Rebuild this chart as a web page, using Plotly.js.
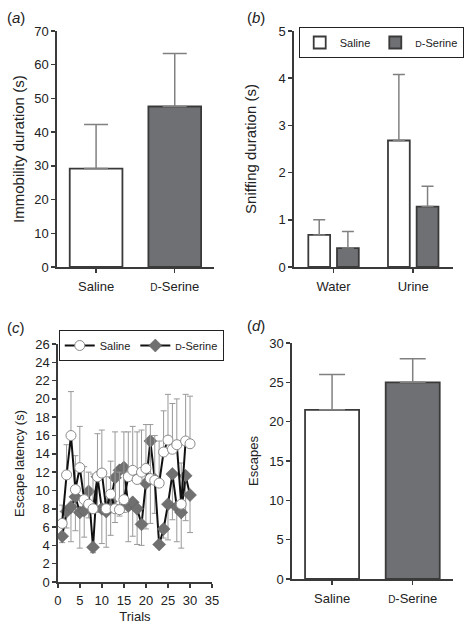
<!DOCTYPE html>
<html>
<head>
<meta charset="utf-8">
<script src="https://cdn.plot.ly/plotly-3.0.1.min.js"></script>
<style>html,body{margin:0;padding:0;background:#fff;}</style>
</head>
<body>
<div id="chart" style="width:464px;height:631px;"></div>
<script>
// ---- Data ----
var groupNames = ['Saline', 'D-Serine'];

// (a) Immobility duration
var immobilityMean = [29.2, 47.6];
var immobilitySEM = [13.1, 15.7];

// (b) Sniffing duration
var odourCategories = ['Water', 'Urine'];
var sniffSaline = [0.68, 2.68];
var sniffSalineErr = [0.32, 1.40];
var sniffDSerine = [0.40, 1.28];
var sniffDSerineErr = [0.35, 0.43];

// (c) Escape latency over trials
var trials = [1,2,3,4,5,6,7,8,9,10,11,12,13,14,15,16,17,18,19,20,21,22,23,24,25,26,27,28,29,30];
var latencySaline = [6.4,11.7,16.0,10.1,12.5,9.0,8.5,8.0,11.5,11.9,8.0,9.6,8.0,7.9,9.0,11.5,12.2,11.2,12.0,12.4,11.3,11.1,10.8,14.2,15.5,14.5,15.0,8.5,15.4,15.1];
var latencySalineErr = [2.0,3.3,4.8,3.7,4.5,3.6,3.5,3.8,4.7,4.7,3.5,3.6,8.4,4.1,7.4,4.9,4.8,5.2,4.6,4.8,5.9,4.9,4.6,4.5,5.0,5.0,5.0,4.5,5.1,5.2];
var latencyDSerine = [5.0,7.7,8.2,9.3,7.6,7.8,9.9,3.8,11.5,8.0,7.7,8.8,11.4,12.2,12.5,8.3,8.7,8.0,6.3,10.8,15.4,11.2,4.1,5.8,8.5,11.8,8.2,7.6,11.6,9.5];
var latencyDSerineErr = [0.7,1.8,3.8,3.7,3.9,2.9,2.9,0.6,3.9,3.8,3.9,3.7,4.9,5.0,4.9,3.9,3.7,3.9,2.3,5.0,9.0,3.7,0.3,1.0,3.9,5.0,3.8,3.9,4.9,4.1];

// (d) Escapes
var escapesMean = [21.5, 25.0];
var escapesSEM = [4.5, 3.0];

// Axis titles
var yTitles = ['Immobility duration (s)', 'Sniffing duration (s)', 'Escape latency (s)', 'Escapes'];

// ---- Styles ----
var W = 464, H = 631;
var FONT = 'Liberation Sans, Arial, sans-serif';
var AXIS_COL = '#3a3a3a';
var DARK_FILL = '#6f7073';
var ERR_COL = '#808080';

function smallCaps(s, size) {
  return s.replace(/^D-/, '<span style="font-size:' + (size || 10) + 'px">D</span>-');
}
function zeros(n) { var a = []; for (var i = 0; i < n; i++) a.push(0); return a; }
function xd(a, b) { return [a / W, b / W]; }
function yd(top, bottom) { return [1 - bottom / H, 1 - top / H]; }

function yAxis(dom, range, dtick, anchor) {
  return {
    domain: dom, range: range, dtick: dtick, anchor: anchor, automargin: false,
    showline: true, linecolor: AXIS_COL, linewidth: 1.5,
    ticks: 'outside', ticklen: 4, tickcolor: AXIS_COL, tickwidth: 1.5,
    showgrid: false, zeroline: false,
    tickfont: {family: FONT, size: 13, color: '#222'},
    fixedrange: true
  };
}
function xCatAxis(dom, cats, anchor) {
  return {
    domain: dom, anchor: anchor, type: 'category', range: [-0.5, 1.5], automargin: false,
    tickmode: 'array', tickvals: cats, ticktext: cats.map(function (c) { return smallCaps(c); }),
    showline: true, linecolor: AXIS_COL, linewidth: 1.5,
    ticks: 'outside', ticklen: 4, tickcolor: AXIS_COL, tickwidth: 1.5, ticklabelstandoff: 3,
    showgrid: false, zeroline: false,
    tickfont: {family: FONT, size: 13, color: '#222'},
    fixedrange: true
  };
}

var barLine = {color: AXIS_COL, width: 1.8};

var traces = [
  // (a)
  {
    type: 'bar', x: groupNames, y: immobilityMean, xaxis: 'x', yaxis: 'y',
    width: 0.67, showlegend: false,
    marker: {color: ['#ffffff', DARK_FILL], line: barLine},
    error_y: {type: 'data', symmetric: false, array: immobilitySEM, arrayminus: zeros(2),
              color: ERR_COL, thickness: 1.5, width: 12}
  },
  // (b)
  {
    type: 'bar', name: 'Saline', x: odourCategories, y: sniffSaline, xaxis: 'x2', yaxis: 'y2',
    legend: 'legend', marker: {color: '#ffffff', line: barLine},
    error_y: {type: 'data', symmetric: false, array: sniffSalineErr, arrayminus: zeros(2),
              color: ERR_COL, thickness: 1.5, width: 6}
  },
  {
    type: 'bar', name: smallCaps('D-Serine', 9), x: odourCategories, y: sniffDSerine, xaxis: 'x2', yaxis: 'y2',
    legend: 'legend', marker: {color: DARK_FILL, line: barLine},
    error_y: {type: 'data', symmetric: false, array: sniffDSerineErr, arrayminus: zeros(2),
              color: ERR_COL, thickness: 1.5, width: 6}
  },
  // (c)
  {
    type: 'scatter', mode: 'lines+markers', name: smallCaps('D-Serine', 9), legendrank: 2,
    x: trials, y: latencyDSerine, xaxis: 'x3', yaxis: 'y3', legend: 'legend2',
    line: {color: '#111', width: 2},
    marker: {symbol: 'diamond', size: 10, color: '#707070', line: {color: '#5a5a5a', width: 0.5}},
    error_y: {type: 'data', symmetric: false, array: zeros(trials.length), arrayminus: latencyDSerineErr,
              color: '#999', thickness: 1, width: 3}
  },
  {
    type: 'scatter', mode: 'lines+markers', name: 'Saline', legendrank: 1,
    x: trials, y: latencySaline, xaxis: 'x3', yaxis: 'y3', legend: 'legend2',
    line: {color: '#111', width: 2},
    marker: {symbol: 'circle', size: 10, color: '#ffffff', line: {color: '#8a8a8a', width: 1}},
    error_y: {type: 'data', symmetric: false, array: latencySalineErr, arrayminus: zeros(trials.length),
              color: '#999', thickness: 1, width: 3}
  },
  // (d)
  {
    type: 'bar', x: groupNames, y: escapesMean, xaxis: 'x4', yaxis: 'y4',
    width: 0.67, showlegend: false,
    marker: {color: ['#ffffff', DARK_FILL], line: barLine},
    error_y: {type: 'data', symmetric: false, array: escapesSEM, arrayminus: zeros(2),
              color: ERR_COL, thickness: 1.5, width: 13}
  }
];

var dA = {x: xd(57, 215), y: yd(31, 267)};
var dB = {x: xd(295, 455), y: yd(31, 267)};
var dC = {x: xd(58, 213), y: yd(344, 582)};
var dD = {x: xd(293, 455), y: yd(343, 579)};

var xC = {
  domain: dC.x, anchor: 'y3', range: [0, 35], dtick: 5, automargin: false,
  showline: true, linecolor: AXIS_COL, linewidth: 1.5,
  ticks: 'outside', ticklen: 4, tickcolor: AXIS_COL, tickwidth: 1.5, ticklabelstandoff: 2,
  showgrid: false, zeroline: false,
  tickfont: {family: FONT, size: 13, color: '#222'},
  title: {text: 'Trials', font: {family: FONT, size: 13, color: '#222'}, standoff: 5},
  fixedrange: true
};

function panelLabel(letter, px, py) {
  return {
    text: '(<i>' + letter + '</i>)', xref: 'paper', yref: 'paper',
    x: px / W, y: 1 - py / H, xanchor: 'left', yanchor: 'middle', showarrow: false,
    font: {family: FONT, size: 15, color: '#222'}
  };
}
function yTitle(text, cx, dom, size) {
  return {
    text: text, xref: 'paper', yref: 'paper', textangle: -90,
    x: cx / W, y: (dom[0] + dom[1]) / 2, xanchor: 'center', yanchor: 'middle', showarrow: false,
    font: {family: FONT, size: size, color: '#222'}
  };
}

var layout = {
  width: W, height: H,
  margin: {l: 0, r: 0, t: 0, b: 0, pad: 0},
  paper_bgcolor: '#ffffff', plot_bgcolor: '#ffffff',
  barmode: 'group', bargap: 0.28, bargroupgap: 0.24,
  font: {family: FONT, size: 13, color: '#222'},
  xaxis: xCatAxis(dA.x, groupNames, 'y'),
  yaxis: yAxis(dA.y, [0, 70], 10, 'x'),
  xaxis2: xCatAxis(dB.x, odourCategories, 'y2'),
  yaxis2: yAxis(dB.y, [0, 5], 1, 'x2'),
  xaxis3: xC,
  yaxis3: yAxis(dC.y, [0, 26], 2, 'x3'),
  xaxis4: xCatAxis(dD.x, groupNames, 'y4'),
  yaxis4: yAxis(dD.y, [0, 30], 5, 'x4'),
  legend: {
    x: 300 / W, y: 1 - 27 / H, xanchor: 'left', yanchor: 'top', orientation: 'h',
    bgcolor: '#ffffff', bordercolor: '#222', borderwidth: 1,
    font: {family: FONT, size: 11, color: '#222'}, itemwidth: 30, tracegroupgap: 0
  },
  legend2: {
    x: 59 / W, y: 1 - 330 / H, xanchor: 'left', yanchor: 'top', orientation: 'h',
    bgcolor: '#ffffff', bordercolor: '#222', borderwidth: 1, traceorder: 'normal',
    font: {family: FONT, size: 11, color: '#222'}, itemwidth: 30
  },
  annotations: [
    panelLabel('a', 5, 17),
    panelLabel('b', 246, 17),
    panelLabel('c', 5, 327),
    panelLabel('d', 246, 325),
    yTitle(yTitles[0], 19, dA.y, 15),
    yTitle(yTitles[1], 252, dB.y, 15),
    yTitle(yTitles[2], 19, dC.y, 13),
    yTitle(yTitles[3], 254, dD.y, 13)
  ]
};

Plotly.newPlot('chart', traces, layout, {displayModeBar: false, staticPlot: true});
</script>
</body>
</html>
